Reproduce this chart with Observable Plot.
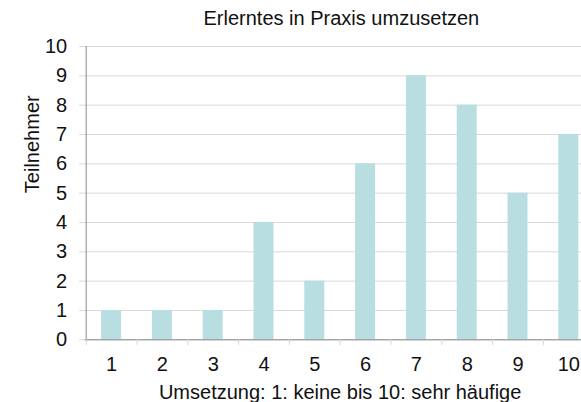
<!DOCTYPE html>
<html><head><meta charset="utf-8">
<script src="https://cdn.jsdelivr.net/npm/d3@7"></script>
<script src="https://cdn.jsdelivr.net/npm/@observablehq/plot@0.6"></script>
<style>html,body{margin:0;padding:0;background:#fff;overflow:hidden}#chart svg{overflow:hidden;display:block}</style>
</head><body><div id="chart"></div>
<script>
const categories = [1, 2, 3, 4, 5, 6, 7, 8, 9, 10];
const teilnehmer = [1, 1, 1, 4, 2, 6, 9, 8, 5, 7];
const yTicks = [0, 1, 2, 3, 4, 5, 6, 7, 8, 9, 10];
const chartTitle = "Erlerntes in Praxis umzusetzen";
const xTitle = "Umsetzung: 1: keine bis 10: sehr häufige";
const yTitle = "Teilnehmer";

const data = categories.map((c, i) => ({c, v: teilnehmer[i]}));
const step = 50.8;
const left = 85.7;
const axisColor = "#8a8a8a";
const gridColor = "#d9d9d9";
const font = "'Liberation Sans', Arial, Helvetica, sans-serif";

const chart = Plot.plot({
  width: 581,
  height: 402,
  marginTop: 46,
  marginBottom: 62.7,
  marginLeft: left,
  marginRight: 0,
  style: {fontFamily: font, fontSize: "20px", color: "#111", background: "#fff"},
  x: {type: "band", domain: categories, range: [left, left + 10 * step], paddingInner: 0.606, paddingOuter: 0.303, round: false, axis: null},
  y: {domain: [0, 10], axis: null},
  marks: [
    Plot.ruleY(yTicks, {y: d => d, stroke: gridColor, strokeWidth: 1, insetLeft: -6.5}),
    Plot.barY(data, {x: "c", y: "v", fill: "#b8dee2"}),
    Plot.ruleY([0], {stroke: axisColor, strokeWidth: 1, insetLeft: -1}),
    Plot.ruleX([categories[0]], {x: d => d, y1: 0, y2: 10, dx: -step / 2, stroke: axisColor, strokeWidth: 1}),
    Plot.ruleX(categories, {x: d => d, y1: 0, y2: 0, insetBottom: -6, dx: -step / 2, stroke: gridColor, strokeWidth: 1}),
    Plot.axisY(yTicks, {tickSize: 0, tickPadding: 19, fontSize: 20, label: null}),
    Plot.axisX({tickSize: 0, tickPadding: 16.5, fontSize: 20, label: null}),
    Plot.text([chartTitle], {text: d => d, frameAnchor: "top", lineAnchor: "bottom", dy: -22, dx: 7.5, fontSize: 20}),
    Plot.text([xTitle], {text: d => d, frameAnchor: "bottom", lineAnchor: "bottom", dy: 58.7, dx: 6.3, fontSize: 20}),
    Plot.text([yTitle], {text: d => d, frameAnchor: "left", lineAnchor: "bottom", rotate: -90, dx: 39 - left, fontSize: 20})
  ]
});
document.getElementById("chart").appendChild(chart);
</script>
</body></html>
